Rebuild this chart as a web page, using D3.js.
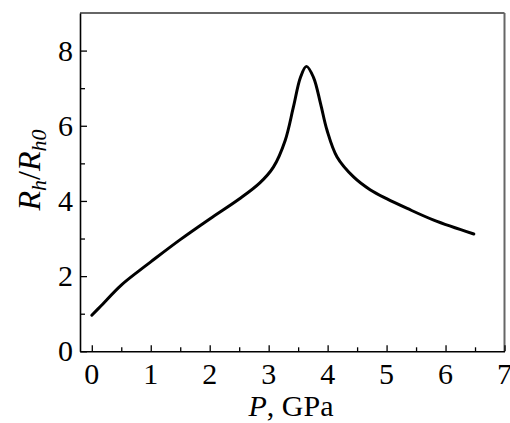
<!DOCTYPE html>
<html>
<head>
<meta charset="utf-8">
<script src="https://cdn.jsdelivr.net/npm/d3@7"></script>
<style>
  body { margin: 0; background: #fff; }
  text { font-family: 'Liberation Serif', 'Times New Roman', serif; fill: #000; }
</style>
</head>
<body>
<div id="canvas"></div>
<script>
// pressure (GPa) and normalised Hall resistance
const pressure = [0, 0.15, 0.5, 0.8, 1.0, 1.5, 2.0, 2.5, 2.85, 3.08, 3.28, 3.42, 3.54, 3.64, 3.76, 3.88, 3.99, 4.16, 4.44, 4.72, 5.0, 5.35, 5.8, 6.48];
const ratio = [0.96, 1.2, 1.76, 2.14, 2.38, 2.97, 3.52, 4.05, 4.48, 4.9, 5.61, 6.5, 7.29, 7.58, 7.29, 6.59, 5.88, 5.17, 4.64, 4.3, 4.06, 3.8, 3.49, 3.12];
const xTicks = [0, 1, 2, 3, 4, 5, 6, 7];
const yTicks = [0, 2, 4, 6, 8];

const w = 510;
const h = 423;
const mLeft = 80, mRight = 504.5, mTop = 13, mBottom = 351.3;

const svg = d3.select('#canvas')
  .append('svg')
  .attr('width', w)
  .attr('height', h);

const x = d3.scaleLinear().domain([-0.2, 7]).range([mLeft, mRight]);
const y = d3.scaleLinear().domain([0, 9]).range([mBottom, mTop]);

// frame: top and right grey, left and bottom black
svg.append('line').attr('x1', mLeft).attr('x2', mRight).attr('y1', mTop).attr('y2', mTop)
  .attr('stroke', '#666').attr('stroke-width', 2);
svg.append('line').attr('x1', mRight).attr('x2', mRight).attr('y1', mTop).attr('y2', mBottom)
  .attr('stroke', '#666').attr('stroke-width', 2);

const xAxis = d3.axisBottom(x)
  .tickValues(d3.range(0, 7.01, 0.5))
  .tickSize(0)
  .tickFormat('');
const gx = svg.append('g')
  .attr('transform', 'translate(0,' + mBottom + ')')
  .call(xAxis);
gx.select('.domain').attr('stroke', '#000').attr('stroke-width', 1.6);
gx.selectAll('.tick line')
  .attr('y2', d => Number.isInteger(d) ? -6 : -4)
  .attr('stroke', '#000').attr('stroke-width', 1.3);

const yAxis = d3.axisLeft(y)
  .tickValues(d3.range(0, 9, 1))
  .tickSize(0)
  .tickFormat('');
const gy = svg.append('g')
  .attr('transform', 'translate(' + mLeft + ',0)')
  .call(yAxis);
gy.select('.domain').attr('stroke', '#000').attr('stroke-width', 1.6);
gy.selectAll('.tick line')
  .attr('x2', d => d % 2 === 0 ? 7 : 5)
  .attr('stroke', '#000').attr('stroke-width', 1.3);

svg.append('g')
  .selectAll('text')
  .data(xTicks)
  .enter()
  .append('text')
  .attr('x', d => x(d))
  .attr('y', 384)
  .attr('text-anchor', 'middle')
  .style('font-size', '30px')
  .text(d => d);

svg.append('g')
  .selectAll('text')
  .data(yTicks)
  .enter()
  .append('text')
  .attr('x', 73)
  .attr('y', d => y(d) + 10)
  .attr('text-anchor', 'end')
  .style('font-size', '30px')
  .text(d => d);

// axis titles
const xt = svg.append('text')
  .attr('x', 291)
  .attr('y', 416)
  .attr('text-anchor', 'middle')
  .style('font-size', '30px');
xt.append('tspan').style('font-style', 'italic').text('P');
xt.append('tspan').text(', GPa');

const yt = svg.append('text')
  .attr('transform', 'translate(40,170) rotate(-90)')
  .attr('text-anchor', 'middle')
  .style('font-size', '32px');
yt.append('tspan').style('font-style', 'italic').text('R');
yt.append('tspan').style('font-style', 'italic').style('font-size', '22px').attr('dy', 6).text('h');
yt.append('tspan').attr('dy', -6).text('/');
yt.append('tspan').style('font-style', 'italic').text('R');
yt.append('tspan').style('font-style', 'italic').style('font-size', '22px').attr('dy', 6).text('h0');

const line = d3.line()
  .x((d, i) => x(pressure[i]))
  .y(d => y(d))
  .curve(d3.curveCatmullRom.alpha(0.5));

svg.append('path')
  .datum(ratio)
  .attr('fill', 'none')
  .attr('stroke', '#000')
  .attr('stroke-width', 3)
  .attr('stroke-linecap', 'round')
  .attr('d', line);
</script>
</body>
</html>
